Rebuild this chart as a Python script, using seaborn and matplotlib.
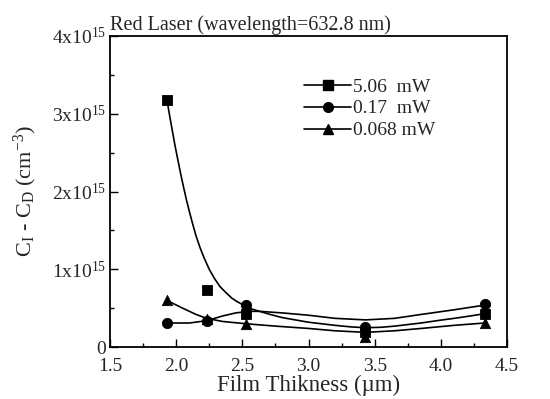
import numpy as np
import pandas as pd
import matplotlib
matplotlib.use('Agg')
import matplotlib.pyplot as plt
from matplotlib.lines import Line2D
from matplotlib.ticker import FuncFormatter, MultipleLocator
import seaborn as sns

sns.set_style('ticks')
plt.rcParams['font.family'] = ['Liberation Serif', 'DejaVu Serif']
plt.rcParams['mathtext.fontset'] = 'custom'
plt.rcParams['mathtext.rm'] = 'Liberation Serif'
plt.rcParams['mathtext.it'] = 'Liberation Serif:italic'

# measured points (film thickness in um, C_I - C_D in cm^-3)
thick = [1.93, 2.23, 2.53, 3.43, 4.33]
p506 = [3.18e15, 0.73e15, 0.43e15, 0.20e15, 0.43e15]
p017 = [0.31e15, 0.33e15, 0.54e15, 0.26e15, 0.55e15]
p0068 = [0.60e15, 0.36e15, 0.30e15, 0.13e15, 0.31e15]

# fitted curves
fit506_x = [1.93, 1.95, 1.97, 1.99, 2.01, 2.03, 2.05, 2.075, 2.10, 2.125, 2.15, 2.18,
            2.21, 2.25, 2.29, 2.33, 2.37, 2.42, 2.46, 2.51, 2.57, 2.63, 2.71,
            2.80, 2.90, 3.00, 3.10, 3.20, 3.32, 3.43, 3.55, 3.65, 3.75, 3.85, 3.97,
            4.10, 4.22, 4.33]
fit506_y = [3.18e15, 2.98e15, 2.79e15, 2.60e15, 2.43e15, 2.26e15, 2.10e15, 1.91e15,
            1.74e15, 1.58e15, 1.43e15, 1.28e15, 1.15e15, 1.00e15, 0.88e15, 0.78e15,
            0.71e15, 0.63e15, 0.585e15, 0.54e15, 0.49e15, 0.46e15, 0.42e15,
            0.38e15, 0.35e15, 0.32e15, 0.30e15, 0.28e15, 0.26e15, 0.25e15, 0.255e15,
            0.27e15, 0.29e15, 0.31e15, 0.34e15, 0.37e15, 0.40e15, 0.43e15]
fit017_x = [1.93, 2.10, 2.23, 2.35, 2.45, 2.55, 2.63, 2.80, 3.00, 3.20, 3.43, 3.65,
            3.85, 4.10, 4.33]
fit017_y = [0.31e15, 0.31e15, 0.34e15, 0.40e15, 0.44e15, 0.46e15, 0.46e15, 0.44e15,
            0.41e15, 0.37e15, 0.35e15, 0.37e15, 0.42e15, 0.48e15, 0.54e15]
fit0068_x = [1.93, 2.05, 2.15, 2.23, 2.35, 2.53, 2.75, 3.00, 3.20, 3.43, 3.65, 3.85,
             4.10, 4.33]
fit0068_y = [0.60e15, 0.50e15, 0.42e15, 0.37e15, 0.33e15, 0.30e15, 0.27e15, 0.24e15,
             0.21e15, 0.19e15, 0.21e15, 0.24e15, 0.28e15, 0.31e15]

labels = ['5.06  mW', '0.17  mW', '0.068 mW']
markers = ['s', 'o', '^']

fig = plt.figure(figsize=(5.5, 3.99), dpi=100)
ax = fig.add_axes([0.2, 0.13, 0.722, 0.78])

series = [(thick, p506, fit506_x, fit506_y),
          (thick, p017, fit017_x, fit017_y),
          (thick, p0068, fit0068_x, fit0068_y)]
for (px, py, fx, fy), m in zip(series, markers):
    sns.lineplot(x=fx, y=fy, ax=ax, color='black', lw=1.2, sort=False, estimator=None)
    sns.scatterplot(x=px, y=py, ax=ax, color='black', marker=m, s=55,
                    edgecolor='black', linewidth=0.6, zorder=3)

ax.set_xlim(1.5, 4.5)
ax.set_ylim(0, 4e15)
ax.xaxis.set_major_locator(MultipleLocator(0.5))
ax.xaxis.set_minor_locator(MultipleLocator(0.25))
ax.yaxis.set_major_locator(MultipleLocator(1e15))
ax.yaxis.set_minor_locator(MultipleLocator(0.5e15))


def ylab(v, pos):
    n = int(round(v / 1e15))
    return '0' if n == 0 else r'%dx10$^{15}$' % n


ax.yaxis.set_major_formatter(FuncFormatter(ylab))
ax.xaxis.set_major_formatter(FuncFormatter(lambda v, p: '%.1f' % v))
ax.tick_params(which='both', direction='in', color='black', labelsize=14)
ax.tick_params(axis='x', pad=8)
ax.tick_params(axis='y', pad=3)
ax.tick_params(which='major', length=6, width=1)
ax.tick_params(which='minor', length=3, width=1)
for s in ax.spines.values():
    s.set_linewidth(1.3)
    s.set_color('black')

ax.set_xlabel('Film Thikness (µm)', fontsize=16.5, labelpad=0)
ax.set_ylabel(r'C$_\mathrm{I}$ - C$_\mathrm{D}$ (cm$^{-3}$)', fontsize=16, labelpad=2)
ax.yaxis.set_label_coords(-0.18, 0.5)
ax.set_title('Red Laser (wavelength=632.8 nm)', loc='left', fontsize=14.5, pad=4)

handles = [Line2D([], [], color='black', lw=1.2, marker=m, markersize=7)
           for m in markers]
ax.legend(handles, labels, loc='upper left', bbox_to_anchor=(0.47, 0.89), frameon=False,
          fontsize=14, handlelength=2.4, handletextpad=0.1, labelspacing=0.22,
          borderaxespad=0)

fig.savefig('out.png', dpi=100)
